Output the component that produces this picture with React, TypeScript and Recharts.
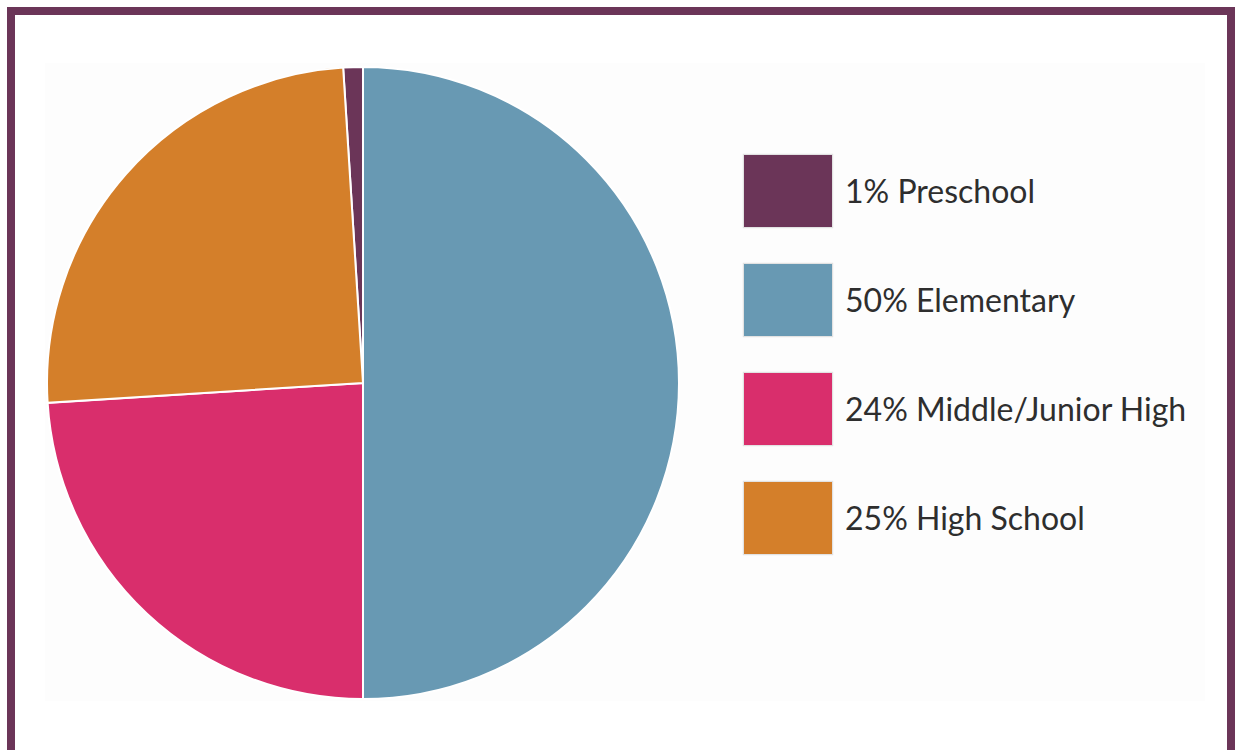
import { PieChart, Pie, Cell, Legend } from 'recharts'

const LEVELS = ['Preschool', 'Elementary', 'Middle/Junior High', 'High School']
const SHARES = [1, 50, 24, 25]
const COLORS = ['#6b3558', '#6899b3', '#d92e6c', '#d47f2a']

const chartData = LEVELS.map((name, i) => ({ name, value: SHARES[i], fill: COLORS[i] }))

const total = SHARES.reduce((a, b) => a + b, 0)
// first slice ends at 12 o'clock, everything runs clockwise
const startAngle = 90 + (SHARES[0] / total) * 360

function LegendBox() {
  return (
    <div style={{ display: 'flex', flexDirection: 'column' }}>
      {LEVELS.map((name, i) => (
        <div key={name} style={{ display: 'flex', alignItems: 'center', height: 109 }}>
          <div
            style={{
              width: 88,
              height: 72,
              background: COLORS[i],
              border: '1px solid #e2e2e2',
              boxShadow: '0 0 1px rgba(0,0,0,0.15)',
            }}
          />
          <span
            style={{
              marginLeft: 12,
              fontFamily: 'Lato, sans-serif',
              fontSize: 32,
              color: '#2e2e2e',
              whiteSpace: 'nowrap',
            }}
          >
            {SHARES[i]}% {name}
          </span>
        </div>
      ))}
    </div>
  )
}

export default function App() {
  return (
    <div
      style={{
        position: 'absolute',
        left: 0,
        top: 0,
        width: 1235,
        height: 750,
        overflow: 'hidden',
        background: '#fff',
      }}
    >
      <div
        style={{
          position: 'absolute',
          left: 7,
          top: 7,
          width: 1228,
          height: 800,
          boxSizing: 'border-box',
          border: '8px solid #6b3558',
        }}
      />
      <div
        style={{
          position: 'absolute',
          left: 45,
          top: 63,
          width: 1160,
          height: 638,
          background: '#fdfdfd',
        }}
      />
      <div style={{ position: 'absolute', left: 0, top: 0 }}>
        <PieChart width={1235} height={750} margin={{ top: 0, right: 0, bottom: 0, left: 0 }}>
          <Pie
            data={chartData}
            dataKey="value"
            nameKey="name"
            cx={363}
            cy={383}
            outerRadius={316}
            startAngle={startAngle}
            endAngle={startAngle - 360}
            stroke="#ffffff"
            strokeWidth={2}
            isAnimationActive={false}
          >
            {chartData.map((entry) => (
              <Cell key={entry.name} fill={entry.fill} />
            ))}
          </Pie>
          <Legend
            layout="vertical"
            content={() => <LegendBox />}
            wrapperStyle={{ left: 743, top: 136, width: 480 }}
          />
        </PieChart>
      </div>
    </div>
  )
}
